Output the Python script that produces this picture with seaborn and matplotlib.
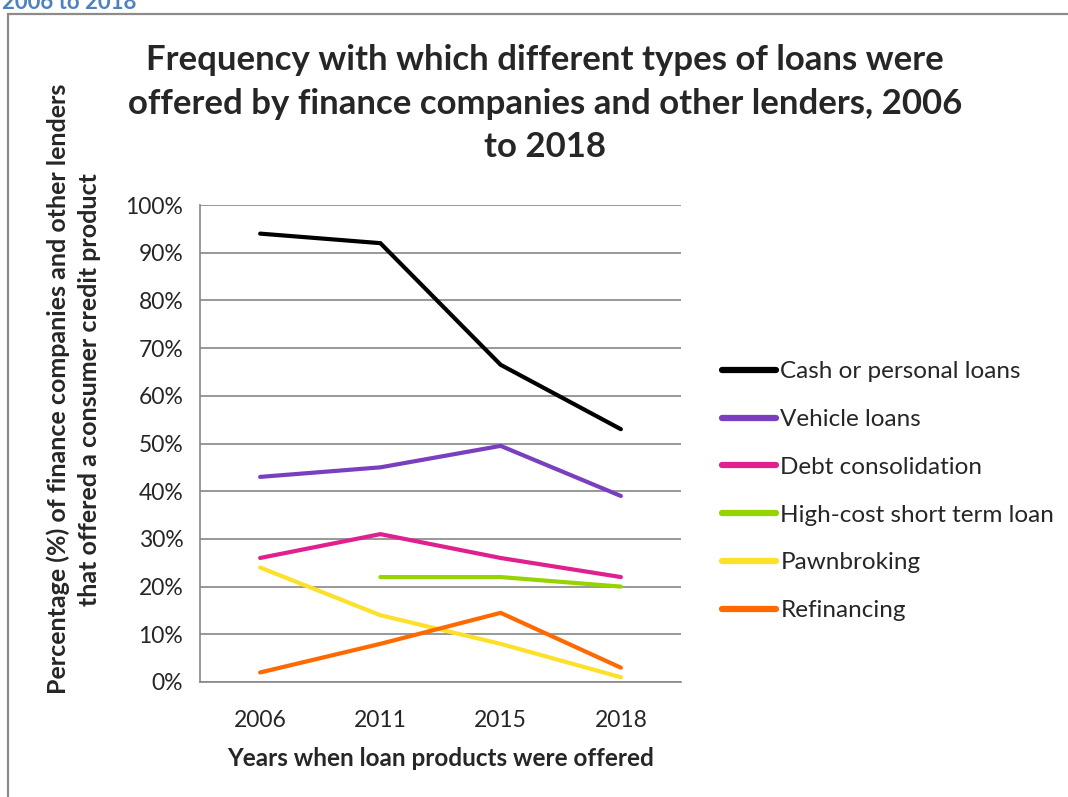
import matplotlib
matplotlib.use("Agg")
import matplotlib.pyplot as plt
from matplotlib.patches import Rectangle
from matplotlib.ticker import FixedLocator, FuncFormatter
import seaborn as sns
import pandas as pd
import numpy as np

years = ["2006", "2011", "2015", "2018"]
cash_personal = [94, 92, 66.5, 53]
vehicle = [43, 45, 49.5, 39]
debt_consolidation = [26, 31, 26, 22]
high_cost_short_term = [np.nan, 22, 22, 20]
pawnbroking = [24, 14, 8, 1]
refinancing = [2, 8, 14.5, 3]

series_names = ["Cash or personal loans", "Vehicle loans", "Debt consolidation",
                "High-cost short term loan", "Pawnbroking", "Refinancing"]
series_values = [cash_personal, vehicle, debt_consolidation,
                 high_cost_short_term, pawnbroking, refinancing]
colors = ["#000000", "#7A3FBE", "#E0208F", "#96D400", "#FDE02A", "#FF6A00"]

rows = []
for name, vals in zip(series_names, series_values):
    for y, v in zip(years, vals):
        rows.append({"Year": y, "Value": v, "Series": name})
df = pd.DataFrame(rows)

sns.set_style("white")
plt.rcParams["font.family"] = ["Lato", "DejaVu Sans"]

fig = plt.figure(figsize=(10.68, 7.97), dpi=100)
ax = fig.add_axes([200/1068, 1-682/797, 481/1068, 477/797])

sns.lineplot(data=df, x="Year", y="Value", hue="Series", hue_order=series_names,
             palette=colors, linewidth=3.0, ax=ax, sort=False, legend=True)
for ln in ax.get_lines():
    ln.set_solid_capstyle("round")
    ln.set_solid_joinstyle("miter")

ax.set_xlim(-0.5, 3.5)
ax.set_ylim(0, 100)
ax.yaxis.set_major_locator(FixedLocator(np.arange(0, 101, 10)))
ax.yaxis.set_major_formatter(FuncFormatter(lambda v, p: f"{int(v)}%"))
ax.grid(axis="y", color="#868686", linewidth=1.2)
ax.set_axisbelow(True)

ax.xaxis.set_minor_locator(FixedLocator([-0.5, 0.5, 1.5, 2.5, 3.5]))
ax.tick_params(axis="x", which="major", length=0, labelsize=16.5, pad=20)
ax.tick_params(axis="x", which="minor", length=7, width=1.2, color="#868686", direction="out")
ax.tick_params(axis="y", which="major", length=8, width=1.2, color="#868686",
               direction="out", labelsize=16.5, pad=4)

for s in ["top", "right"]:
    ax.spines[s].set_visible(False)
for s in ["left", "bottom"]:
    ax.spines[s].set_color("#868686")
    ax.spines[s].set_linewidth(1.2)

ax.set_xlabel("Years when loan products were offered", fontsize=17.5, fontweight="bold", labelpad=12)
ax.set_ylabel("Percentage (%) of finance companies and other lenders\nthat offered a consumer credit product",
              fontsize=18, fontweight="bold", linespacing=1.42)
ax.yaxis.set_label_coords(-0.205, 0.614)

handles, labels = ax.get_legend_handles_labels()
for h in handles:
    h.set_linewidth(4.5)
    h.set_solid_capstyle("round")
leg = ax.legend(handles, labels, loc="center left", bbox_to_anchor=(1.040, 0.40),
                frameon=False, fontsize=17.5, handlelength=2.2, handletextpad=0.2,
                labelspacing=1.1)

fig.suptitle("Frequency with which different types of loans were\noffered by finance companies and other lenders, 2006\nto 2018",
             x=545/1068, y=1-44/797, fontsize=25, fontweight="bold", linespacing=1.45, va="top")

fig.text(2/1068, 1-9/797, "2006 to 2018", color="#4F81BD", fontsize=16, fontweight="bold",
         va="baseline", ha="left")

fig.patches.append(Rectangle((8/1068, -0.05), 1.1, 1-14/797+0.05, transform=fig.transFigure,
                             fill=False, edgecolor="#8C8C8C", linewidth=1.6, clip_on=False))

fig.savefig("out.png", dpi=100)
